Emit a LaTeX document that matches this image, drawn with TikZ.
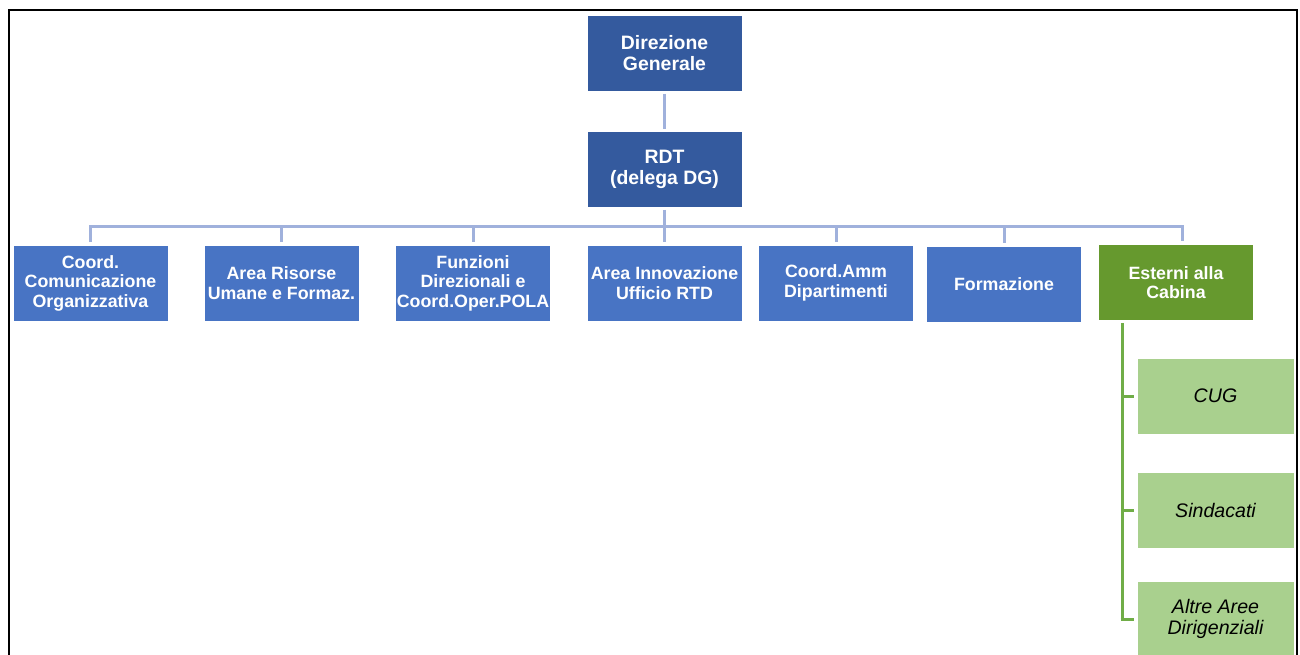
\documentclass[tikz,border=0pt]{standalone}
\usepackage{fontspec}
\setmainfont{Liberation Sans}
\definecolor{dkblue}{RGB}{52,90,158}
\definecolor{mdblue}{RGB}{72,116,196}
\definecolor{lnblue}{RGB}{160,177,220}
\definecolor{dkgreen}{RGB}{102,153,46}
\definecolor{ltgreen}{RGB}{169,208,142}
\definecolor{lngreen}{RGB}{112,173,71}
\begin{document}
\begin{tikzpicture}[x=1pt,y=-1pt,
  base/.style={draw=white, line width=0.8pt, inner sep=0pt, align=center,
    minimum width=155pt, minimum height=76pt},
  topbox/.style={base, fill=dkblue, text=white,
    font=\bfseries\fontsize{19.4}{21}\selectfont},
  midbox/.style={base, fill=mdblue, text=white,
    font=\bfseries\fontsize{17.8}{19.5}\selectfont},
  extbox/.style={base, fill=dkgreen, text=white,
    font=\bfseries\fontsize{17.8}{19.5}\selectfont},
  subbox/.style={base, fill=ltgreen, text=black, minimum width=157pt,
    font=\itshape\fontsize{19.6}{21}\selectfont},
  bline/.style={draw=lnblue, line width=3pt},
  gline/.style={draw=lngreen, line width=3pt}]
\useasboundingbox (0,0) rectangle (1300,654);
\fill[white] (0,0) rectangle (1300,654);

% nodes
\node[topbox] (dg)  at (664.5,53.5)  {Direzione\\Generale};
\node[topbox] (rdt) at (664.5,169.5) {RDT\\(delega DG)};

\node[midbox] (c1) at (90.5,283)  {Coord.\\Comunicazione\\Organizzativa};
\node[midbox] (c2) at (281.5,283) {Area Risorse\\Umane e Formaz.};
\node[midbox] (c3) at (473,283)   {Funzioni\\Direzionali e\\Coord.Oper.POLA};
\node[midbox] (c4) at (664.5,283) {Area Innovazione\\Ufficio RTD};
\node[midbox] (c5) at (836,283)   {Coord.Amm\\Dipartimenti};
\node[midbox] (c6) at (1004,284)  {Formazione};
\node[extbox] (c7) at (1176,282.5) {Esterni alla\\Cabina};

\node[subbox] (g1) at (1215.5,396) {CUG};
\node[subbox] (g2) at (1215.5,510) {Sindacati};
\node[subbox] (g3) at (1215.5,619) {Altre Aree\\Dirigenziali};

% connectors
\coordinate (bus) at (664.5,226);
\coordinate (tr) at ([xshift=-54pt]c7.south);
\draw[bline, shorten <=2pt, shorten >=2pt] (dg.south) -- (rdt.north);
\draw[bline, shorten <=2pt] (rdt.south) -- (rdt.south |- bus);
\draw[bline, line cap=rect] (c1.north |- bus) -- ([xshift=6pt]c7.north |- bus);
\foreach \n in {c1,c2,c3,c4,c5,c6}
  \draw[bline, shorten >=3pt] (\n.north |- bus) -- (\n.north);
\draw[bline, shorten >=3pt] ([xshift=6pt]c7.north |- bus) -- ([xshift=6pt]c7.north);

\draw[gline, shorten <=2pt] (tr) -- (tr |- g3.west);
\foreach \n in {g1,g2,g3}
  \draw[gline, shorten >=3pt] (tr |- \n.west) -- (\n.west);
\draw[gline] ([xshift=-1.5pt]tr |- g3.west) -- (tr |- g3.west);

% outer frame
\draw[line width=2pt] (9,700) -- (9,10) -- (1297,10) -- (1297,700);
\end{tikzpicture}
\end{document}
